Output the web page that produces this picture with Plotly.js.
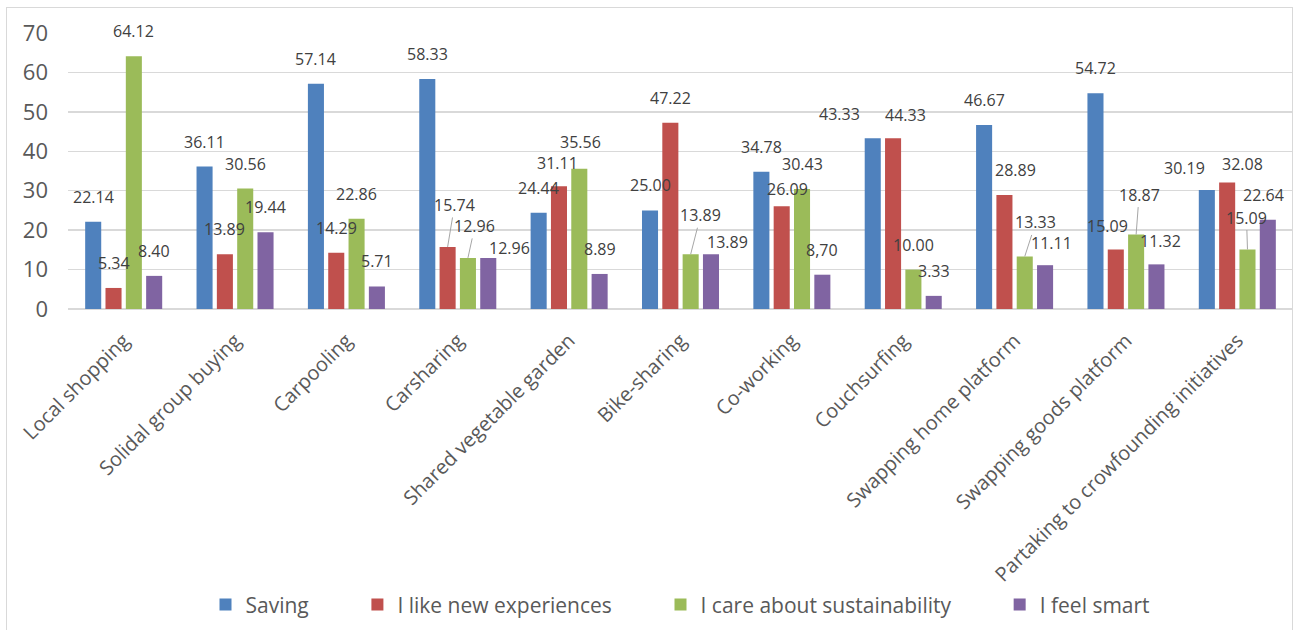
<!DOCTYPE html>
<html>
<head>
<meta charset="utf-8">
<script src="https://cdn.plot.ly/plotly-3.0.1.min.js"></script>
<style>
  html, body { margin: 0; padding: 0; background: #fff; }
  #wrap { position: relative; width: 1298px; height: 630px; overflow: hidden; }
  #chart { width: 1298px; height: 630px; }
  #frame { position: absolute; left: 6px; top: 7px; width: 1285px; height: 640px;
           border: 1.5px solid #d9d9d9; pointer-events: none; }
</style>
</head>
<body>
<div id="wrap"><div id="chart"></div><div id="frame"></div></div>
<script>
const categories = [
  "Local shopping", "Solidal group buying", "Carpooling", "Carsharing",
  "Shared vegetable garden", "Bike-sharing", "Co-working", "Couchsurfing",
  "Swapping home platform", "Swapping goods platform",
  "Partaking to crowfounding initiatives"
];
const seriesNames = ["Saving", "I like new experiences", "I care about sustainability", "I feel smart"];

const saving        = [22.14, 36.11, 57.14, 58.33, 24.44, 25.00, 34.78, 43.33, 46.67, 54.72, 30.19];
const newExperience = [5.34, 13.89, 14.29, 15.74, 31.11, 47.22, 26.09, 43.33, 28.89, 15.09, 32.08];
const sustainability= [64.12, 30.56, 22.86, 12.96, 35.56, 13.89, 30.43, 10.00, 13.33, 18.87, 15.09];
const feelSmart     = [8.40, 19.44, 5.71, 12.96, 8.89, 13.89, 8.70, 3.33, 11.11, 11.32, 22.64];

const savingLabels        = ["22.14","36.11","57.14","58.33","24.44","25.00","34.78","43.33","46.67","54.72","30.19"];
const newExperienceLabels = ["5.34","13.89","14.29","15.74","31.11","47.22","26.09","44.33","28.89","15.09","32.08"];
const sustainabilityLabels= ["64.12","30.56","22.86","12.96","35.56","13.89","30.43","10.00","13.33","18.87","15.09"];
const feelSmartLabels     = ["8.40","19.44","5.71","12.96","8.89","13.89","8,70","3.33","11.11","11.32","22.64"];

const yTicks = [0, 10, 20, 30, 40, 50, 60, 70];

// Label nudges (style only): [series, category, dx px, dy px, leader line]
const labelNudges = [
  [1, 3, 7, -17, true], [2, 3, 7, -7, true], [3, 3, 21, 15, false],
  [1, 4, -1, 2, false], [2, 4, 1, -2, false],
  [2, 5, 10, -14, true], [3, 5, 17, 13, false],
  [1, 6, 6, 8, false],
  [0, 7, -33, 1, false], [1, 7, 12, 2, false],
  [1, 8, 11, 0, false], [2, 8, 11, -9, true], [3, 8, 6, 3, false],
  [1, 9, -8, 1, false], [2, 9, 3, -15, true], [3, 9, 4, 2, false],
  [0, 10, -22, 3, false], [1, 10, 15, 6, false], [2, 10, -1, -7, true], [3, 10, -4, 0, false]
];

const colors = ["#4F81BD", "#C0504D", "#9BBB59", "#8064A2"];
const values = [saving, newExperience, sustainability, feelSmart];
const labels = [savingLabels, newExperienceLabels, sustainabilityLabels, feelSmartLabels];

const FONT = "Open Sans, Noto Sans, sans-serif";
const BARGAP = 0.27;
const PAD = "\u00a0".repeat(8);

const traces = values.map((v, i) => ({
  type: "bar", name: seriesNames[i] + (i < 3 ? PAD : ""), x: categories, y: v,
  marker: { color: colors[i], line: { width: 0 } },
  hoverinfo: "skip"
}));

// Data labels as annotations placed on each bar through the category axis scale
const slot = (1 - BARGAP) / values.length;
const annotations = [];
values.forEach((v, j) => {
  v.forEach((val, i) => {
    const n = labelNudges.find(d => d[0] === j && d[1] === i);
    const dx = n ? n[2] : 0, dy = n ? n[3] : 0, leader = n ? n[4] : false;
    const a = {
      xref: "x", yref: "y",
      x: i + (j - (values.length - 1) / 2) * slot, y: val,
      text: labels[j][i],
      font: { family: FONT, size: 16, color: "#404040" }
    };
    if (leader) {
      Object.assign(a, { showarrow: true, arrowhead: 0, arrowwidth: 1, arrowcolor: "#a6a6a6",
        standoff: 0, startstandoff: 0, ax: dx, ay: -25 + dy });
    } else {
      Object.assign(a, { showarrow: false, xshift: dx, yshift: 25 - dy });
    }
    annotations.push(a);
  });
});

const layout = {
  width: 1298, height: 630,
  margin: { l: 68, r: 5, t: 33, b: 318 },
  paper_bgcolor: "#ffffff", plot_bgcolor: "#ffffff",
  barmode: "group", bargap: BARGAP, bargroupgap: 0.21,
  font: { family: FONT, color: "#595959" },
  xaxis: {
    type: "category", tickangle: -45, showgrid: false, zeroline: false,
    showline: false, ticks: "", ticklabelstandoff: 15,
    tickfont: { family: FONT, size: 20, color: "#595959" }
  },
  yaxis: {
    range: [0, 70], tickvals: yTicks, ticktext: yTicks.map(String),
    showgrid: true, gridcolor: "#d9d9d9", gridwidth: 1.5,
    zeroline: true, zerolinecolor: "#d9d9d9", zerolinewidth: 1.5,
    showline: false, ticks: "", ticklabelstandoff: 19,
    tickfont: { family: FONT, size: 22, color: "#595959" }
  },
  legend: {
    orientation: "h", x: 0.5, xanchor: "center", y: -1.072, yanchor: "middle",
    font: { family: FONT, size: 21, color: "#595959" }, traceorder: "normal"
  },
  annotations: annotations,
  showlegend: true
};

Plotly.newPlot("chart", traces, layout, { displayModeBar: false, staticPlot: true });
</script>
</body>
</html>
